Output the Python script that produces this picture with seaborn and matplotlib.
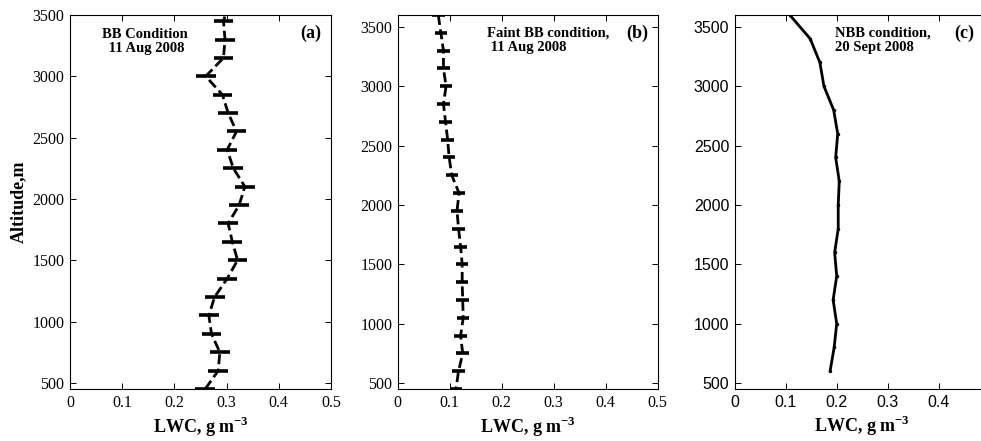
import matplotlib
matplotlib.use("Agg")
import matplotlib.pyplot as plt
import seaborn as sns
import numpy as np
import pandas as pd

# ---------------- data ----------------
alt_a = [3600, 3450, 3300, 3150, 3000, 2850, 2700, 2550, 2400, 2250, 2100,
         1950, 1800, 1650, 1500, 1350, 1200, 1050, 900, 750, 600, 450]
lwc_a = [0.305, 0.294, 0.297, 0.294, 0.260, 0.292, 0.303, 0.319, 0.301, 0.313, 0.335,
         0.324, 0.303, 0.311, 0.321, 0.301, 0.277, 0.266, 0.271, 0.287, 0.284, 0.259]
err_a = 0.019

alt_b = [3600, 3450, 3300, 3150, 3000, 2850, 2700, 2550, 2400, 2250, 2100,
         1950, 1800, 1650, 1500, 1350, 1200, 1050, 900, 750, 600, 450]
lwc_b = [0.078, 0.083, 0.088, 0.088, 0.093, 0.088, 0.092, 0.096, 0.099, 0.104, 0.118,
         0.114, 0.117, 0.121, 0.124, 0.124, 0.125, 0.126, 0.121, 0.125, 0.117, 0.112]
err_b = 0.012

alt_c = [600, 800, 1000, 1200, 1400, 1600, 1800, 2000, 2200, 2400, 2600,
         2800, 3000, 3200, 3400, 3600]
lwc_c = [0.187, 0.195, 0.200, 0.193, 0.200, 0.196, 0.203, 0.203, 0.205, 0.198, 0.202,
         0.194, 0.175, 0.167, 0.148, 0.108]

x_ticks = [0, 0.1, 0.2, 0.3, 0.4, 0.5]
x_ticklabels = ['0', '0.1', '0.2', '0.3', '0.4', '0.5']
x_ticklabels_c = ['0', '0.1', '0.2', '0.3', '0.4', '']   # 0.5 falls off the page
y_ticks = [500, 1000, 1500, 2000, 2500, 3000, 3500]

sns.set_style("ticks")
plt.rcParams.update({
    'font.family': ['Liberation Serif', 'DejaVu Serif'],
    'mathtext.fontset': 'custom',
    'mathtext.rm': 'Liberation Serif',
    'mathtext.bf': 'Liberation Serif:bold',
    'text.color': 'black',
    'axes.labelcolor': 'black',
    'axes.edgecolor': 'black',
    'xtick.color': 'black',
    'ytick.color': 'black',
    'axes.linewidth': 0.8,
    'xtick.direction': 'in',
    'ytick.direction': 'in',
    'xtick.top': True,
    'ytick.right': True,
    'xtick.major.size': 4,
    'ytick.major.size': 4,
})

W, H = 981, 441
fig = plt.figure(figsize=(W / 100, H / 100), dpi=100)


def make_ax(left, right, top=15, bottom=389):
    return fig.add_axes([left / W, (H - bottom) / H, (right - left) / W, (bottom - top) / H])


def style_ax(ax, ylim, font, xlabels):
    ax.set_xlim(0, 0.5)
    ax.set_ylim(*ylim)
    ax.set_xticks(x_ticks)
    ax.set_xticklabels(xlabels)
    ax.set_yticks(y_ticks)
    for lab in ax.get_xticklabels() + ax.get_yticklabels():
        lab.set_family(font)
        lab.set_fontsize(11.5)
    ax.tick_params(axis='both', which='major', pad=4, width=0.7)
    ax.set_xlabel('LWC, g m$^{\\mathbf{-3}}$', fontsize=13, fontweight='bold', labelpad=3)
    ax.set_ylabel('')


def profile(ax, alt, lwc, err):
    df = pd.DataFrame({'alt': alt, 'lwc': lwc})
    sns.lineplot(data=df, x='lwc', y='alt', sort=False, orient='y', ax=ax,
                 color='black', linewidth=2.0, linestyle='--',
                 estimator=None)
    ax.get_lines()[-1].set_dashes((3.6, 1.6))
    ax.errorbar(lwc, alt, xerr=err, fmt='none', ecolor='black',
                elinewidth=2.6, capsize=0, clip_on=True)


# ---------------- panel (a) ----------------
ax_a = make_ax(70, 331)
profile(ax_a, alt_a, lwc_a, err_a)
style_ax(ax_a, (450, 3500), 'Liberation Serif', x_ticklabels)
ax_a.set_ylabel('Altitude,m', fontsize=13, fontweight='bold', labelpad=4)
ax_a.text(0.287, 0.965, 'BB Condition\n 11 Aug 2008', transform=ax_a.transAxes,
          ha='center', va='top', fontsize=10.5, fontweight='bold', linespacing=1.1)
ax_a.text(0.923, 0.952, '(a)', transform=ax_a.transAxes, ha='center', va='center',
          fontsize=13, fontweight='bold')

# ---------------- panel (b) ----------------
ax_b = make_ax(397.7, 657.7)
profile(ax_b, alt_b, lwc_b, err_b)
style_ax(ax_b, (450, 3600), 'Liberation Serif', x_ticklabels)
ax_b.text(0.343, 0.968, 'Faint BB condition,\n 11 Aug 2008', transform=ax_b.transAxes,
          ha='left', va='top', fontsize=10.5, fontweight='bold', linespacing=1.1)
ax_b.text(0.92, 0.952, '(b)', transform=ax_b.transAxes, ha='center', va='center',
          fontsize=13, fontweight='bold')

# ---------------- panel (c) ----------------
ax_c = make_ax(734.7, 989.7)
df_c = pd.DataFrame({'alt': alt_c, 'lwc': lwc_c})
sns.lineplot(data=df_c, x='lwc', y='alt', sort=False, orient='y', ax=ax_c,
             color='black', linewidth=2.0, marker='o', markersize=2.5,
             markeredgewidth=0, estimator=None)
style_ax(ax_c, (450, 3600), 'Liberation Sans', x_ticklabels_c)
ax_c.text(0.393, 0.968, 'NBB condition,\n20 Sept 2008', transform=ax_c.transAxes,
          ha='left', va='top', fontsize=10.5, fontweight='bold', linespacing=1.1)
ax_c.text(0.9, 0.952, '(c)', transform=ax_c.transAxes, ha='center', va='center',
          fontsize=13, fontweight='bold')

fig.savefig('out.png', dpi=100)
